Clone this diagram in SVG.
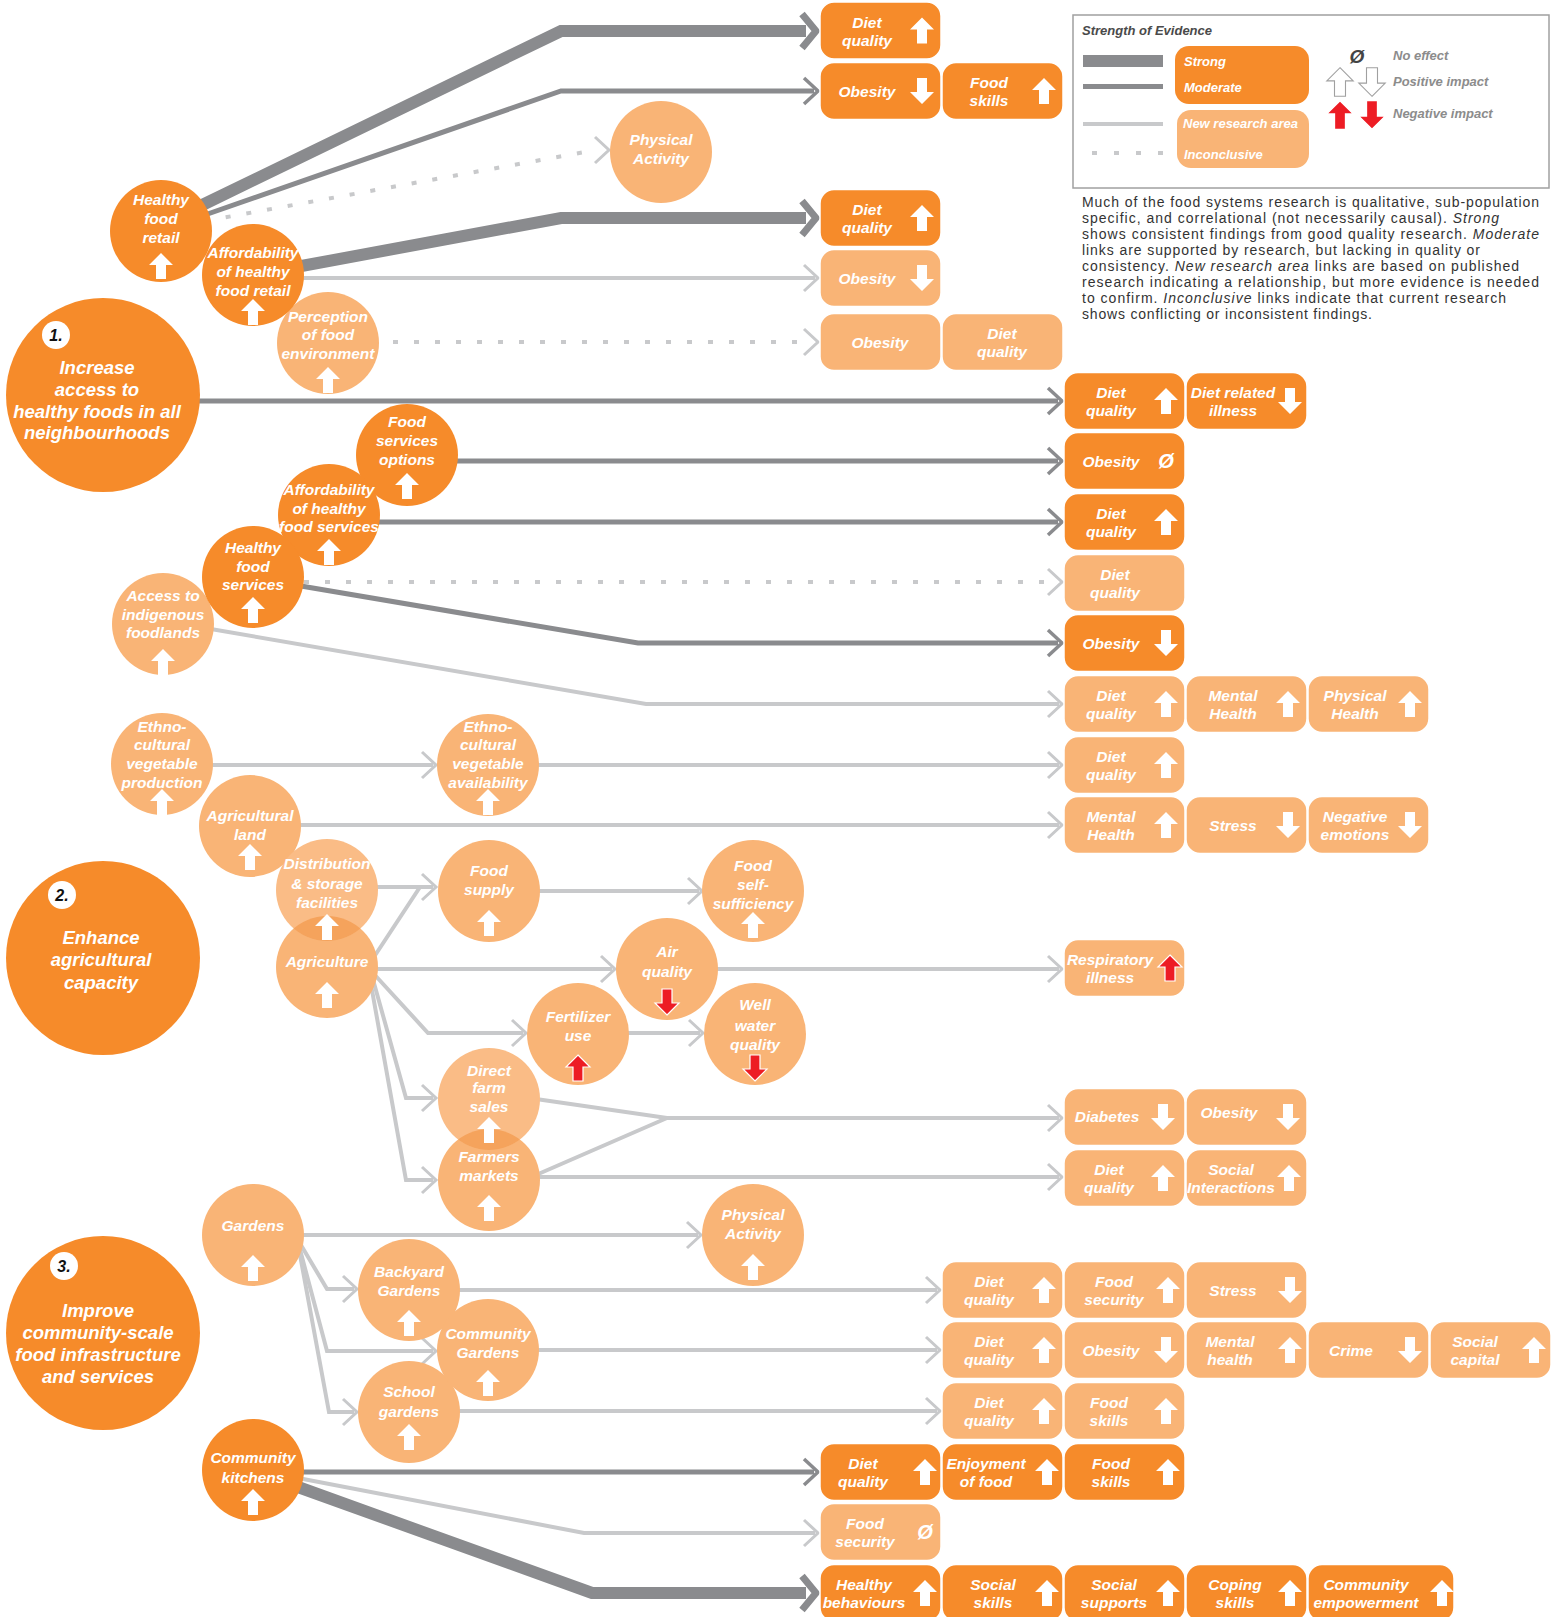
<svg xmlns="http://www.w3.org/2000/svg" width="1557" height="1617" viewBox="0 0 1557 1617">
<defs>
<style>
.d{fill:#F68B2A}
.l{fill:#F9B476}
.ov{fill:#F5A35C}
.bx{stroke:#fff;stroke-width:1.5}
.t{fill:#fff;font-family:"Liberation Sans",Arial,sans-serif;font-style:italic;font-weight:bold;font-size:15.5px;text-anchor:middle}
.tb{font-size:18.5px}
.nb{fill:#111;font-family:"Liberation Sans",Arial,sans-serif;font-style:italic;font-weight:bold;font-size:16px;text-anchor:middle}
.z{font-size:20px}
.s{fill:none;stroke:#8A8B8E;stroke-width:12}
.sc{fill:none;stroke:#8A8B8E;stroke-width:7}
.m{fill:none;stroke:#8A8B8E;stroke-width:5}
.mc{fill:none;stroke:#8A8B8E;stroke-width:3.5}
.n{fill:none;stroke:#C8C9CB;stroke-width:4}
.nc{fill:none;stroke:#C8C9CB;stroke-width:3}
.i{fill:none;stroke:#C8C9CB;stroke-width:4;stroke-dasharray:5 16}
.w{fill:#fff}
.r{fill:#ED1C24;stroke:#fff;stroke-width:1.2}
.o{fill:#fff;stroke:#A0A0A0;stroke-width:1}
.lg{font-family:"Liberation Sans",Arial,sans-serif;font-style:italic;font-weight:bold;font-size:13px}
.p{font-family:"Liberation Sans",Arial,sans-serif;font-size:14px;fill:#333}
</style>
<path id="up" d="M0,-13 L12,-1 L5,-1 L5,13 L-5,13 L-5,-1 L-12,-1 Z"/>
<path id="dn" d="M0,13 L12,1 L5,1 L5,-13 L-5,-13 L-5,1 L-12,1 Z"/>
<clipPath id="clipDist"><circle cx="327" cy="890" r="51"/></clipPath>
<clipPath id="clipDirect"><circle cx="489" cy="1099" r="51"/></clipPath>
</defs>
<rect width="1557" height="1617" fill="#fff"/>

<g id="connectors">
<path class="s" d="M194,209 L561,31 L806,31"/><path class="sc" d="M802,14 L816,31 L802,48"/>
<path class="m" d="M199,217 L561,91 L814,91"/><path class="mc" d="M804,78 L818,91 L804,104"/>
<path class="i" d="M205,221 L596,150"/><path class="nc" d="M595,137 L609,150 L595,163"/>
<path class="s" d="M296,267 L561,218 L806,218"/><path class="sc" d="M802,201 L816,218 L802,235"/>
<path class="n" d="M296,278 L815,278"/><path class="nc" d="M804,265 L818,278 L804,291"/>
<path class="i" d="M393,342 L805,342"/><path class="nc" d="M804,329 L818,342 L804,355"/>
<path class="m" d="M190,401 L1058,401"/><path class="mc" d="M1048,388 L1062,401 L1048,414"/>
<path class="m" d="M450,461 L1058,461"/><path class="mc" d="M1048,448 L1062,461 L1048,474"/>
<path class="m" d="M375,522 L1058,522"/><path class="mc" d="M1048,509 L1062,522 L1048,535"/>
<path class="i" d="M304,582 L1050,582"/><path class="nc" d="M1048,569 L1062,582 L1048,595"/>
<path class="m" d="M295,585 L638,643 L1058,643"/><path class="mc" d="M1048,630 L1062,643 L1048,656"/>
<path class="n" d="M205,628 L646,704 L1059,704"/><path class="nc" d="M1048,691 L1062,704 L1048,717"/>
<path class="n" d="M210,765 L433,765"/><path class="nc" d="M422,752 L436,765 L422,778"/>
<path class="n" d="M535,765 L1059,765"/><path class="nc" d="M1048,752 L1062,765 L1048,778"/>
<path class="n" d="M296,825 L1059,825"/><path class="nc" d="M1048,812 L1062,825 L1048,838"/>
<path class="n" d="M375,887 L433,887 M372,960 L420,887"/><path class="nc" d="M422,874 L436,887 L422,900"/>
<path class="n" d="M535,891 L699,891"/><path class="nc" d="M688,878 L702,891 L688,904"/>
<path class="n" d="M375,969 L612,969"/><path class="nc" d="M601,956 L615,969 L601,982"/>
<path class="n" d="M715,969 L1059,969"/><path class="nc" d="M1048,956 L1062,969 L1048,982"/>
<path class="n" d="M373,973 L428,1033 L523,1033"/><path class="nc" d="M512,1020 L526,1033 L512,1046"/>
<path class="n" d="M625,1033 L700,1033"/><path class="nc" d="M689,1020 L703,1033 L689,1046"/>
<path class="n" d="M372,976 L406,1098 L433,1098"/><path class="nc" d="M422,1085 L436,1098 L422,1111"/>
<path class="n" d="M370,979 L406,1180 L433,1180"/><path class="nc" d="M422,1167 L436,1180 L422,1193"/>
<path class="n" d="M536,1099 L667,1118 L1059,1118 M536,1175 L667,1118"/><path class="nc" d="M1048,1105 L1062,1118 L1048,1131"/>
<path class="n" d="M536,1177 L1059,1177"/><path class="nc" d="M1048,1164 L1062,1177 L1048,1190"/>
<path class="n" d="M300,1235 L698,1235"/><path class="nc" d="M687,1222 L701,1235 L687,1248"/>
<path class="n" d="M298,1240 L327,1289 L354,1289"/><path class="nc" d="M343,1276 L357,1289 L343,1302"/>
<path class="n" d="M298,1242 L327,1351 L433,1351"/><path class="nc" d="M422,1338 L436,1351 L422,1364"/>
<path class="n" d="M298,1244 L329,1412 L354,1412"/><path class="nc" d="M343,1399 L357,1412 L343,1425"/>
<path class="n" d="M455,1290 L937,1290"/><path class="nc" d="M926,1277 L940,1290 L926,1303"/>
<path class="n" d="M535,1350 L937,1350"/><path class="nc" d="M926,1337 L940,1350 L926,1363"/>
<path class="n" d="M455,1411 L937,1411"/><path class="nc" d="M926,1398 L940,1411 L926,1424"/>
<path class="m" d="M300,1472 L814,1472"/><path class="mc" d="M804,1459 L818,1472 L804,1485"/>
<path class="n" d="M298,1478 L584,1533 L815,1533"/><path class="nc" d="M804,1520 L818,1533 L804,1546"/>
<path class="s" d="M298,1487 L592,1593 L806,1593"/><path class="sc" d="M802,1576 L816,1593 L802,1610"/>
</g>

<g id="goal1"><circle class="d" cx="103" cy="395" r="97"/><circle class="w" cx="56" cy="335" r="14"/><text class="nb" x="56" y="341">1.</text>
<text class="t tb"><tspan x="97" y="374">Increase</tspan><tspan x="97" y="396">access to</tspan><tspan x="97" y="418">healthy foods in all</tspan><tspan x="97" y="439">neighbourhoods</tspan></text></g>
<g id="goal2"><circle class="d" cx="103" cy="958" r="97"/><circle class="w" cx="62" cy="895" r="14"/><text class="nb" x="62" y="901">2.</text>
<text class="t tb"><tspan x="101" y="944">Enhance</tspan><tspan x="101" y="966">agricultural</tspan><tspan x="101" y="989">capacity</tspan></text></g>
<g id="goal3"><circle class="d" cx="103" cy="1333" r="97"/><circle class="w" cx="64" cy="1266" r="14"/><text class="nb" x="64" y="1272">3.</text>
<text class="t tb"><tspan x="98" y="1317">Improve</tspan><tspan x="98" y="1339">community-scale</tspan><tspan x="98" y="1361">food infrastructure</tspan><tspan x="98" y="1383">and services</tspan></text></g>

<g id="physical-activity-1"><circle class="l" cx="661" cy="152" r="51"/><text class="t"><tspan x="661" y="145">Physical</tspan><tspan x="661" y="164">Activity</tspan></text></g>
<g id="healthy-food-retail"><circle class="d" cx="161" cy="231" r="51"/><text class="t"><tspan x="161" y="205">Healthy</tspan><tspan x="161" y="224">food</tspan><tspan x="161" y="243">retail</tspan></text><use href="#up" class="w" x="161" y="266"/></g>
<g id="perception"><circle class="l" cx="328" cy="343" r="51"/><text class="t"><tspan x="328" y="322">Perception</tspan><tspan x="328" y="340">of food</tspan><tspan x="328" y="359">environment</tspan></text><use href="#up" class="w" x="328" y="380"/></g>
<g id="affordability-retail"><circle class="d" cx="253" cy="275" r="51"/><text class="t"><tspan x="253" y="258">Affordability</tspan><tspan x="253" y="277">of healthy</tspan><tspan x="253" y="296">food retail</tspan></text><use href="#up" class="w" x="253" y="312"/></g>
<g id="food-services-options"><circle class="d" cx="407" cy="455" r="51"/><text class="t"><tspan x="407" y="427">Food</tspan><tspan x="407" y="446">services</tspan><tspan x="407" y="465">options</tspan></text><use href="#up" class="w" x="407" y="486"/></g>
<g id="access-indigenous"><circle class="l" cx="163" cy="624" r="51"/><text class="t"><tspan x="163" y="601">Access to</tspan><tspan x="163" y="620">indigenous</tspan><tspan x="163" y="638">foodlands</tspan></text><use href="#up" class="w" x="163" y="662"/></g>
<g id="affordability-services"><circle class="d" cx="329" cy="515" r="51"/><text class="t"><tspan x="329" y="495">Affordability</tspan><tspan x="329" y="514">of healthy</tspan><tspan x="329" y="532">food services</tspan></text><use href="#up" class="w" x="329" y="552"/></g>
<g id="healthy-food-services"><circle class="d" cx="253" cy="577" r="51"/><text class="t"><tspan x="253" y="553">Healthy</tspan><tspan x="253" y="572">food</tspan><tspan x="253" y="590">services</tspan></text><use href="#up" class="w" x="253" y="610"/></g>
<g id="ethno-production"><circle class="l" cx="162" cy="764" r="51"/><text class="t"><tspan x="162" y="732">Ethno-</tspan><tspan x="162" y="750">cultural</tspan><tspan x="162" y="769">vegetable</tspan><tspan x="162" y="788">production</tspan></text><use href="#up" class="w" x="162" y="802"/></g>
<g id="ethno-availability"><circle class="l" cx="488" cy="765" r="51"/><text class="t"><tspan x="488" y="732">Ethno-</tspan><tspan x="488" y="750">cultural</tspan><tspan x="488" y="769">vegetable</tspan><tspan x="488" y="788">availability</tspan></text><use href="#up" class="w" x="488" y="802"/></g>
<g id="agricultural-land"><circle class="l" cx="250" cy="826" r="51"/><text class="t"><tspan x="250" y="821">Agricultural</tspan><tspan x="250" y="840">land</tspan></text><use href="#up" class="w" x="250" y="857"/></g>
<g id="agriculture"><circle class="l" cx="327" cy="967" r="51"/><text class="t" x="327" y="967">Agriculture</text><use href="#up" class="w" x="327" y="995"/></g>
<g id="distribution"><circle cx="327" cy="890" r="51" fill="#FABC86"/><circle class="ov" cx="327" cy="967" r="51" clip-path="url(#clipDist)"/><text class="t"><tspan x="327" y="869">Distribution</tspan><tspan x="327" y="889">&amp; storage</tspan><tspan x="327" y="908">facilities</tspan></text><use href="#up" class="w" x="327" y="927"/></g>
<g id="food-supply"><circle class="l" cx="489" cy="891" r="51"/><text class="t"><tspan x="489" y="876">Food</tspan><tspan x="489" y="895">supply</tspan></text><use href="#up" class="w" x="489" y="923"/></g>
<g id="food-self-sufficiency"><circle class="l" cx="753" cy="891" r="51"/><text class="t"><tspan x="753" y="871">Food</tspan><tspan x="753" y="890">self-</tspan><tspan x="753" y="909">sufficiency</tspan></text><use href="#up" class="w" x="753" y="925"/></g>
<g id="air-quality"><circle class="l" cx="667" cy="969" r="51"/><text class="t"><tspan x="667" y="957">Air</tspan><tspan x="667" y="977">quality</tspan></text><use href="#dn" class="r" x="667" y="1002"/></g>
<g id="fertilizer-use"><circle class="l" cx="578" cy="1034" r="51"/><text class="t"><tspan x="578" y="1022">Fertilizer</tspan><tspan x="578" y="1041">use</tspan></text><use href="#up" class="r" x="578" y="1068"/></g>
<g id="well-water"><circle class="l" cx="755" cy="1034" r="51"/><text class="t"><tspan x="755" y="1010">Well</tspan><tspan x="755" y="1031">water</tspan><tspan x="755" y="1050">quality</tspan></text><use href="#dn" class="r" x="755" y="1068"/></g>
<g id="farmers-markets"><circle class="l" cx="489" cy="1180" r="51"/><text class="t"><tspan x="489" y="1162">Farmers</tspan><tspan x="489" y="1181">markets</tspan></text><use href="#up" class="w" x="489" y="1208"/></g>
<g id="direct-farm-sales"><circle cx="489" cy="1099" r="51" fill="#FABC86"/><circle class="ov" cx="489" cy="1180" r="51" clip-path="url(#clipDirect)"/><text class="t"><tspan x="489" y="1076">Direct</tspan><tspan x="489" y="1093">farm</tspan><tspan x="489" y="1112">sales</tspan></text><use href="#up" class="w" x="489" y="1130"/></g>
<g id="gardens"><circle class="l" cx="253" cy="1235" r="51"/><text class="t" x="253" y="1231">Gardens</text><use href="#up" class="w" x="253" y="1268"/></g>
<g id="physical-activity-3"><circle class="l" cx="753" cy="1235" r="51"/><text class="t"><tspan x="753" y="1220">Physical</tspan><tspan x="753" y="1239">Activity</tspan></text><use href="#up" class="w" x="753" y="1267"/></g>
<g id="backyard-gardens"><circle class="l" cx="409" cy="1290" r="51"/><text class="t"><tspan x="409" y="1277">Backyard</tspan><tspan x="409" y="1296">Gardens</tspan></text><use href="#up" class="w" x="409" y="1323"/></g>
<g id="school-gardens"><circle class="l" cx="409" cy="1412" r="51"/><text class="t"><tspan x="409" y="1397">School</tspan><tspan x="409" y="1417">gardens</tspan></text><use href="#up" class="w" x="409" y="1437"/></g>
<g id="community-gardens"><circle class="l" cx="488" cy="1350" r="51"/><text class="t"><tspan x="488" y="1339">Community</tspan><tspan x="488" y="1358">Gardens</tspan></text><use href="#up" class="w" x="488" y="1383"/></g>
<g id="community-kitchens"><circle class="d" cx="253" cy="1470" r="51"/><text class="t"><tspan x="253" y="1463">Community</tspan><tspan x="253" y="1483">kitchens</tspan></text><use href="#up" class="w" x="253" y="1502"/></g>

<g id="out-top-diet"><rect class="d bx" x="820" y="2" width="121" height="57" rx="14"/><text class="t"><tspan x="867" y="27.5">Diet</tspan><tspan x="867" y="45.5">quality</tspan></text><use href="#up" class="w" x="922" y="30.5"/></g>
<g id="out-top-obesity"><rect class="d bx" x="820" y="62.5" width="121" height="57" rx="14"/><text class="t" x="867" y="96.5">Obesity</text><use href="#dn" class="w" x="922" y="91"/></g>
<g id="out-top-foodskills"><rect class="d bx" x="942" y="62.5" width="121" height="57" rx="14"/><text class="t"><tspan x="989" y="88">Food</tspan><tspan x="989" y="106">skills</tspan></text><use href="#up" class="w" x="1044" y="91"/></g>
<g id="out-afr-diet"><rect class="d bx" x="820" y="189.5" width="121" height="57" rx="14"/><text class="t"><tspan x="867" y="215">Diet</tspan><tspan x="867" y="233">quality</tspan></text><use href="#up" class="w" x="922" y="218"/></g>
<g id="out-afr-obesity"><rect class="l bx" x="820" y="249.5" width="121" height="57" rx="14"/><text class="t" x="867" y="283.5">Obesity</text><use href="#dn" class="w" x="922" y="278"/></g>
<g id="out-per-obesity"><rect class="l bx" x="820" y="313.5" width="121" height="57" rx="14"/><text class="t" x="880" y="347.5">Obesity</text></g>
<g id="out-per-diet"><rect class="l bx" x="942" y="313.5" width="121" height="57" rx="14"/><text class="t"><tspan x="1002" y="339">Diet</tspan><tspan x="1002" y="357">quality</tspan></text></g>

<g id="out-r1-diet"><rect class="d bx" x="1064" y="372.5" width="121" height="57" rx="14"/><text class="t"><tspan x="1111" y="398">Diet</tspan><tspan x="1111" y="416">quality</tspan></text><use href="#up" class="w" x="1166" y="401"/></g>
<g id="out-r1-illness"><rect class="d bx" x="1186" y="372.5" width="121" height="57" rx="14"/><text class="t"><tspan x="1233" y="398">Diet related</tspan><tspan x="1233" y="416">illness</tspan></text><use href="#dn" class="w" x="1290" y="401"/></g>
<g id="out-r2-obesity"><rect class="d bx" x="1064" y="432.5" width="121" height="57" rx="14"/><text class="t" x="1111" y="466.5">Obesity</text><text class="t z" x="1166" y="468">Ø</text></g>
<g id="out-r3-diet"><rect class="d bx" x="1064" y="493.5" width="121" height="57" rx="14"/><text class="t"><tspan x="1111" y="519">Diet</tspan><tspan x="1111" y="537">quality</tspan></text><use href="#up" class="w" x="1166" y="522"/></g>
<g id="out-r4-diet"><rect class="l bx" x="1064" y="554.5" width="121" height="57" rx="14"/><text class="t"><tspan x="1115" y="580">Diet</tspan><tspan x="1115" y="598">quality</tspan></text></g>
<g id="out-r5-obesity"><rect class="d bx" x="1064" y="614.5" width="121" height="57" rx="14"/><text class="t" x="1111" y="648.5">Obesity</text><use href="#dn" class="w" x="1166" y="643"/></g>
<g id="out-r6-diet"><rect class="l bx" x="1064" y="675.5" width="121" height="57" rx="14"/><text class="t"><tspan x="1111" y="701">Diet</tspan><tspan x="1111" y="719">quality</tspan></text><use href="#up" class="w" x="1166" y="704"/></g>
<g id="out-r6-mental"><rect class="l bx" x="1186" y="675.5" width="121" height="57" rx="14"/><text class="t"><tspan x="1233" y="701">Mental</tspan><tspan x="1233" y="719">Health</tspan></text><use href="#up" class="w" x="1288" y="704"/></g>
<g id="out-r6-physical"><rect class="l bx" x="1308" y="675.5" width="121" height="57" rx="14"/><text class="t"><tspan x="1355" y="701">Physical</tspan><tspan x="1355" y="719">Health</tspan></text><use href="#up" class="w" x="1410" y="704"/></g>
<g id="out-r7-diet"><rect class="l bx" x="1064" y="736.5" width="121" height="57" rx="14"/><text class="t"><tspan x="1111" y="762">Diet</tspan><tspan x="1111" y="780">quality</tspan></text><use href="#up" class="w" x="1166" y="765"/></g>
<g id="out-r8-mental"><rect class="l bx" x="1064" y="796.5" width="121" height="57" rx="14"/><text class="t"><tspan x="1111" y="822">Mental</tspan><tspan x="1111" y="840">Health</tspan></text><use href="#up" class="w" x="1166" y="825"/></g>
<g id="out-r8-stress"><rect class="l bx" x="1186" y="796.5" width="121" height="57" rx="14"/><text class="t" x="1233" y="830.5">Stress</text><use href="#dn" class="w" x="1288" y="825"/></g>
<g id="out-r8-negative"><rect class="l bx" x="1308" y="796.5" width="121" height="57" rx="14"/><text class="t"><tspan x="1355" y="822">Negative</tspan><tspan x="1355" y="840">emotions</tspan></text><use href="#dn" class="w" x="1410" y="825"/></g>

<g id="out-respiratory"><rect class="l bx" x="1064" y="939.5" width="121" height="57" rx="14"/><text class="t"><tspan x="1110" y="965">Respiratory</tspan><tspan x="1110" y="983">illness</tspan></text><use href="#up" class="r" x="1170" y="968"/></g>
<g id="out-diabetes"><rect class="l bx" x="1064" y="1088.5" width="121" height="57" rx="14"/><text class="t" x="1107" y="1122">Diabetes</text><use href="#dn" class="w" x="1163" y="1117"/></g>
<g id="out-fm-obesity"><rect class="l bx" x="1186" y="1088.5" width="121" height="57" rx="14"/><text class="t" x="1229" y="1118">Obesity</text><use href="#dn" class="w" x="1288" y="1117"/></g>
<g id="out-fm-diet"><rect class="l bx" x="1064" y="1149.5" width="121" height="57" rx="14"/><text class="t"><tspan x="1109" y="1175">Diet</tspan><tspan x="1109" y="1193">quality</tspan></text><use href="#up" class="w" x="1163" y="1178"/></g>
<g id="out-fm-social"><rect class="l bx" x="1186" y="1149.5" width="121" height="57" rx="14"/><text class="t"><tspan x="1231" y="1175">Social</tspan><tspan x="1231" y="1193">Interactions</tspan></text><use href="#up" class="w" x="1289" y="1178"/></g>

<g id="out-bg-diet"><rect class="l bx" x="942" y="1261.5" width="121" height="57" rx="14"/><text class="t"><tspan x="989" y="1287">Diet</tspan><tspan x="989" y="1305">quality</tspan></text><use href="#up" class="w" x="1044" y="1290"/></g>
<g id="out-bg-security"><rect class="l bx" x="1064" y="1261.5" width="121" height="57" rx="14"/><text class="t"><tspan x="1114" y="1287">Food</tspan><tspan x="1114" y="1305">security</tspan></text><use href="#up" class="w" x="1168" y="1290"/></g>
<g id="out-bg-stress"><rect class="l bx" x="1186" y="1261.5" width="121" height="57" rx="14"/><text class="t" x="1233" y="1295.5">Stress</text><use href="#dn" class="w" x="1290" y="1290"/></g>
<g id="out-cg-diet"><rect class="l bx" x="942" y="1321.5" width="121" height="57" rx="14"/><text class="t"><tspan x="989" y="1347">Diet</tspan><tspan x="989" y="1365">quality</tspan></text><use href="#up" class="w" x="1044" y="1350"/></g>
<g id="out-cg-obesity"><rect class="l bx" x="1064" y="1321.5" width="121" height="57" rx="14"/><text class="t" x="1111" y="1355.5">Obesity</text><use href="#dn" class="w" x="1166" y="1350"/></g>
<g id="out-cg-mental"><rect class="l bx" x="1186" y="1321.5" width="121" height="57" rx="14"/><text class="t"><tspan x="1230" y="1347">Mental</tspan><tspan x="1230" y="1365">health</tspan></text><use href="#up" class="w" x="1290" y="1350"/></g>
<g id="out-cg-crime"><rect class="l bx" x="1308" y="1321.5" width="121" height="57" rx="14"/><text class="t" x="1351" y="1355.5">Crime</text><use href="#dn" class="w" x="1410" y="1350"/></g>
<g id="out-cg-social"><rect class="l bx" x="1430" y="1321.5" width="121" height="57" rx="14"/><text class="t"><tspan x="1475" y="1347">Social</tspan><tspan x="1475" y="1365">capital</tspan></text><use href="#up" class="w" x="1534" y="1350"/></g>
<g id="out-sg-diet"><rect class="l bx" x="942" y="1382.5" width="121" height="57" rx="14"/><text class="t"><tspan x="989" y="1408">Diet</tspan><tspan x="989" y="1426">quality</tspan></text><use href="#up" class="w" x="1044" y="1411"/></g>
<g id="out-sg-skills"><rect class="l bx" x="1064" y="1382.5" width="121" height="57" rx="14"/><text class="t"><tspan x="1109" y="1408">Food</tspan><tspan x="1109" y="1426">skills</tspan></text><use href="#up" class="w" x="1166" y="1411"/></g>

<g id="out-ck-diet"><rect class="d bx" x="820" y="1443.5" width="121" height="57" rx="14"/><text class="t"><tspan x="863" y="1469">Diet</tspan><tspan x="863" y="1487">quality</tspan></text><use href="#up" class="w" x="925" y="1472"/></g>
<g id="out-ck-enjoy"><rect class="d bx" x="942" y="1443.5" width="121" height="57" rx="14"/><text class="t"><tspan x="986" y="1469">Enjoyment</tspan><tspan x="986" y="1487">of food</tspan></text><use href="#up" class="w" x="1047" y="1472"/></g>
<g id="out-ck-skills"><rect class="d bx" x="1064" y="1443.5" width="121" height="57" rx="14"/><text class="t"><tspan x="1111" y="1469">Food</tspan><tspan x="1111" y="1487">skills</tspan></text><use href="#up" class="w" x="1168" y="1472"/></g>
<g id="out-ck-security"><rect class="l bx" x="820" y="1503.5" width="121" height="57" rx="14"/><text class="t"><tspan x="865" y="1529">Food</tspan><tspan x="865" y="1547">security</tspan></text><text class="t z" x="925" y="1539">Ø</text></g>
<g id="out-ck-behaviours"><rect class="d bx" x="820" y="1564.5" width="121" height="57" rx="14"/><text class="t"><tspan x="864" y="1590">Healthy</tspan><tspan x="864" y="1608">behaviours</tspan></text><use href="#up" class="w" x="925" y="1593"/></g>
<g id="out-ck-socialskills"><rect class="d bx" x="942" y="1564.5" width="121" height="57" rx="14"/><text class="t"><tspan x="993" y="1590">Social</tspan><tspan x="993" y="1608">skills</tspan></text><use href="#up" class="w" x="1047" y="1593"/></g>
<g id="out-ck-supports"><rect class="d bx" x="1064" y="1564.5" width="121" height="57" rx="14"/><text class="t"><tspan x="1114" y="1590">Social</tspan><tspan x="1114" y="1608">supports</tspan></text><use href="#up" class="w" x="1168" y="1593"/></g>
<g id="out-ck-coping"><rect class="d bx" x="1186" y="1564.5" width="121" height="57" rx="14"/><text class="t"><tspan x="1235" y="1590">Coping</tspan><tspan x="1235" y="1608">skills</tspan></text><use href="#up" class="w" x="1290" y="1593"/></g>
<g id="out-ck-empower"><rect class="d bx" x="1308" y="1564.5" width="146" height="57" rx="14"/><text class="t"><tspan x="1366" y="1590">Community</tspan><tspan x="1366" y="1608">empowerment</tspan></text><use href="#up" class="w" x="1442" y="1593"/></g>

<g id="legend">
<rect x="1073" y="15" width="476" height="173" fill="none" stroke="#A0A0A0" stroke-width="1.5"/>
<text class="lg" x="1082" y="35" fill="#4A4A4A">Strength of Evidence</text>
<rect x="1083" y="55" width="80" height="12" fill="#8A8B8E"/>
<rect x="1083" y="84" width="80" height="5" fill="#8A8B8E"/>
<rect x="1083" y="122" width="80" height="4" fill="#C8C9CB"/>
<rect x="1092" y="151" width="5" height="4" fill="#C8C9CB"/><rect x="1114" y="151" width="5" height="4" fill="#C8C9CB"/><rect x="1136" y="151" width="5" height="4" fill="#C8C9CB"/><rect x="1158" y="151" width="5" height="4" fill="#C8C9CB"/>
<rect class="d" x="1175" y="46" width="134" height="58" rx="14"/>
<rect class="l" x="1177" y="110" width="132" height="58" rx="14"/>
<text class="lg" x="1184" y="66" fill="#fff">Strong</text>
<text class="lg" x="1184" y="92" fill="#fff">Moderate</text>
<text class="lg" x="1183" y="128" fill="#fff">New research area</text>
<text class="lg" x="1184" y="159" fill="#fff">Inconclusive</text>
<text class="lg" x="1357" y="63" fill="#444" style="font-size:19px;text-anchor:middle">Ø</text>
<use href="#up" class="o" transform="translate(1340,82) scale(1.1)"/>
<use href="#dn" class="o" transform="translate(1372,82) scale(1.1)"/>
<use href="#up" class="r" transform="translate(1340,115) scale(1.1)"/>
<use href="#dn" class="r" transform="translate(1372,115) scale(1.1)"/>
<text class="lg" x="1393" y="60" fill="#8C8C8C">No effect</text>
<text class="lg" x="1393" y="86" fill="#8C8C8C">Positive impact</text>
<text class="lg" x="1393" y="118" fill="#8C8C8C">Negative impact</text>
</g>

<g id="note">
<text class="p" x="1082" y="207" textLength="457" lengthAdjust="spacing">Much of the food systems research is qualitative, sub-population</text>
<text class="p" x="1082" y="223" textLength="417" lengthAdjust="spacing">specific, and correlational (not necessarily causal).  <tspan font-style="italic">Strong</tspan></text>
<text class="p" x="1082" y="239" textLength="457" lengthAdjust="spacing">shows consistent findings from good quality research.  <tspan font-style="italic">Moderate</tspan></text>
<text class="p" x="1082" y="255" textLength="398" lengthAdjust="spacing">links are supported by research, but lacking in quality or</text>
<text class="p" x="1082" y="271" textLength="437" lengthAdjust="spacing">consistency.  <tspan font-style="italic">New research area</tspan> links are based on published</text>
<text class="p" x="1082" y="287" textLength="457" lengthAdjust="spacing">research indicating a relationship, but more evidence is needed</text>
<text class="p" x="1082" y="303" textLength="424" lengthAdjust="spacing">to confirm.  <tspan font-style="italic">Inconclusive</tspan> links indicate that current research</text>
<text class="p" x="1082" y="319" textLength="290" lengthAdjust="spacing">shows conflicting or inconsistent findings.</text>
</g>
</svg>
